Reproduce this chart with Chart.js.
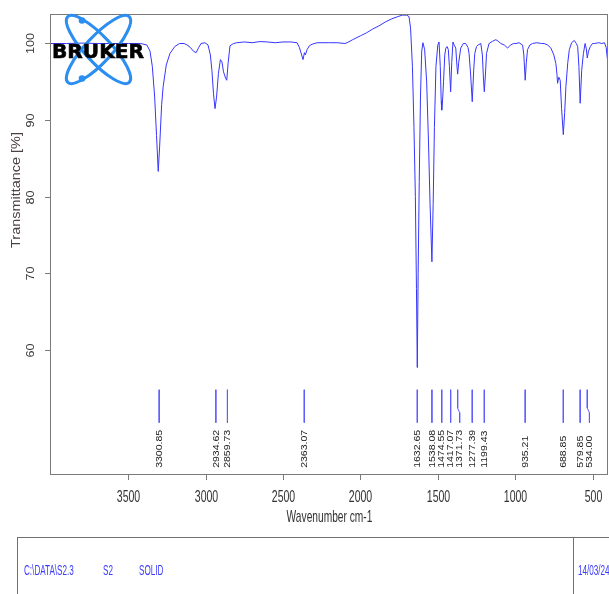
<!DOCTYPE html>
<html>
<head>
<meta charset="utf-8">
<script src="https://cdn.jsdelivr.net/npm/chart.js@4.4.1/dist/chart.umd.min.js"></script>
<style>
  html, body { margin: 0; padding: 0; background: #fff; overflow: hidden; }
  #wrap { position: relative; width: 609px; height: 594px; }
  #logo { position: absolute; left: 0; top: 0; }
  #footBox { position: absolute; left: 17px; top: 537px; width: 620px; height: 80px;
             border-top: 1px solid #707070; border-left: 1px solid #707070; }
  #footDiv { position: absolute; left: 573px; top: 537px; height: 70px; border-left: 1px solid #707070; }
  .foot { position: absolute; top: 562px; font-family: "Liberation Sans", Arial, sans-serif;
          font-size: 14px; line-height: 16px; color: #3a3aff; white-space: pre;
          transform-origin: 0 50%; transform: scale(0.58, 1); }
</style>
</head>
<body>
<div id="wrap">
  <canvas id="irChart" width="609" height="594"></canvas>
  <svg id="logo" width="160" height="90">
    <g fill="none" stroke="#2b8ef0" stroke-width="3">
      <ellipse cx="98.5" cy="49.5" rx="45" ry="13" transform="rotate(47 98.5 49.5)"/>
      <ellipse cx="98.5" cy="49.5" rx="45" ry="13" transform="rotate(-47 98.5 49.5)"/>
    </g>
    <circle cx="82" cy="20.5" r="3.3" fill="#2b8ef0"/>
    <circle cx="82" cy="78.5" r="3.3" fill="#2b8ef0"/>
    <text x="52" y="57.5" font-family="DejaVu Sans" font-weight="bold" font-size="20"
          textLength="92" lengthAdjust="spacingAndGlyphs" fill="#000" stroke="#000" stroke-width="0.6">BRUKER</text>
  </svg>
  <div id="footBox"></div>
  <div id="footDiv"></div>
  <div class="foot" style="left:24px">C:\DATA\S2.3</div>
  <div class="foot" style="left:103px">S2</div>
  <div class="foot" style="left:139px">SOLID</div>
  <div class="foot" style="left:578px">14/03/24</div>
</div>
<script>
// spectrum (wavenumber cm-1, transmittance %)
const waveNumbers = [
  4000, 3900, 3800, 3700, 3600, 3500, 3420, 3380, 3360, 3345, 3330, 3318, 3307, 3298, 3285, 3275,
  3255, 3231, 3200, 3170, 3140, 3120, 3100, 3080, 3062, 3045, 3030, 3005, 2985, 2970, 2960, 2950,
  2940, 2930, 2918, 2905, 2895, 2885, 2872, 2864, 2855, 2843, 2820, 2799, 2750, 2700, 2650, 2600,
  2550, 2500, 2450, 2410, 2395, 2380, 2371, 2362, 2356, 2345, 2330, 2313, 2280, 2200, 2150, 2100,
  2086, 2050, 2000, 1960, 1920, 1880, 1840, 1800, 1760, 1730, 1700, 1686, 1676, 1664, 1654, 1645,
  1638, 1632.65, 1627, 1620, 1612, 1604, 1596, 1585, 1572, 1560, 1550, 1538.08, 1530, 1522, 1512, 1500,
  1492, 1484, 1478, 1474.55, 1468, 1463, 1455, 1448, 1440, 1432, 1425, 1417.07, 1410, 1402, 1392, 1384,
  1376, 1371.73, 1365, 1352, 1335, 1320, 1305, 1298, 1288, 1277.39, 1268, 1261, 1250, 1240, 1222, 1212,
  1205, 1199.43, 1192, 1185, 1169, 1145, 1125, 1110, 1093, 1070, 1049, 1030, 1010, 995, 975, 952,
  944, 935.21, 928, 920, 905, 888, 860, 830, 813, 790, 769, 750, 737, 730, 726, 718,
  709, 700, 688.85, 680, 672, 660, 650, 635, 618, 605, 596, 588, 579.85, 570, 559, 548,
  540, 534, 526, 514, 500, 488, 460, 440, 423, 412, 404, 400
];
const transmittance = [
  100.0, 100.0, 100.05, 100.0, 100.0, 100.0, 100.0, 99.8, 99.0, 97.0, 93.0, 88.0, 83.3, 86.5, 92.0, 94.4,
  97.2, 98.7, 99.6, 100.0, 100.0, 99.8, 99.5, 99.0, 98.8, 99.5, 100.0, 100.1, 99.8, 98.5, 96.5, 93.5,
  91.5, 93.0, 96.1, 97.9, 97.6, 96.3, 95.5, 95.2, 97.5, 99.7, 100.0, 100.1, 100.2, 100.1, 100.25, 100.2,
  100.1, 100.2, 100.2, 100.1, 99.5, 98.5, 97.9, 98.8, 98.5, 99.2, 99.7, 99.9, 100.1, 100.1, 100.1, 100.0,
  100.1, 100.5, 101.0, 101.4, 101.9, 102.3, 102.8, 103.2, 103.5, 103.7, 103.7, 103.5, 102.0, 97.0, 89.0, 80.0,
  68.0, 57.7, 70.0, 82.0, 93.0, 99.0, 100.1, 99.2, 95.0, 87.0, 79.0, 71.5, 79.0, 89.0, 97.0, 99.8,
  100.2, 97.0, 92.5, 91.3, 93.0, 95.0, 98.5, 99.4, 99.6, 99.2, 97.0, 93.7, 97.5, 100.2, 99.7, 99.4,
  97.0, 96.0, 97.5, 99.4, 100.0, 100.0, 99.5, 98.7, 96.0, 92.4, 96.5, 98.7, 99.6, 99.8, 100.0, 98.5,
  95.5, 93.7, 96.0, 98.7, 100.0, 100.3, 100.5, 100.3, 100.0, 99.8, 99.4, 99.8, 100.0, 100.0, 100.1, 99.8,
  98.5, 95.2, 97.5, 99.2, 99.8, 100.0, 100.1, 100.0, 100.0, 99.8, 99.4, 98.5, 97.4, 96.0, 94.8, 95.6,
  95.2, 91.5, 88.1, 91.0, 94.4, 97.5, 99.2, 100.1, 100.4, 100.0, 99.6, 97.0, 92.2, 96.5, 98.7, 100.0,
  99.3, 98.1, 99.0, 99.6, 100.0, 100.0, 100.1, 100.0, 100.1, 99.5, 98.0, 97.8
];
const peakWaves = [3300.85, 2934.62, 2859.73, 2363.07, 1632.65, 1538.08, 1474.55, 1417.07,
                   1371.73, 1277.39, 1199.43, 935.21, 688.85, 579.85, 534.00];
const xTickValues = [3500, 3000, 2500, 2000, 1500, 1000, 500];
const yTickValues = [60, 70, 80, 90, 100];

// peak marker geometry (in transmittance units) and label nudges for crowded peaks
const markTop = 54.8, markKnee = 52.4, markFoot = 51.8, markBottom = 50.5, labelBase = 44.6;
const labelShift = { '1371.73': -13, '534.00': -14 };

const lineColor = '#3535ff';
const markColor = '#5d5dff';
const fontName = '"Liberation Sans", Arial, sans-serif';

function markerPoints(w) {
    const s = labelShift[w.toFixed(2)] || 0;
    if (!s) return [{ x: w, y: markTop }, { x: w, y: markBottom }];
    return [{ x: w, y: markTop }, { x: w, y: markKnee }, { x: w + s, y: markFoot }, { x: w + s, y: markBottom }];
}

function putText(ctx, txt, x, y, size, sx, sy, rotate, align, color) {
    ctx.save();
    ctx.translate(x, y);
    ctx.scale(sx, sy);
    if (rotate) ctx.rotate(-Math.PI / 2);
    ctx.font = size + 'px ' + fontName;
    ctx.fillStyle = color;
    ctx.textAlign = align;
    ctx.textBaseline = 'middle';
    ctx.fillText(txt, 0, 0);
    ctx.restore();
}

const frameParts = {
    id: 'frameParts',
    afterDraw(chart) {
        const ctx = chart.ctx;
        const a = chart.chartArea;
        const xs = chart.scales.x, ys = chart.scales.y;
        ctx.save();
        // box
        ctx.strokeStyle = '#7a7a7a';
        ctx.lineWidth = 1;
        ctx.strokeRect(Math.round(a.left) - 0.5, Math.round(a.top) + 0.5,
                       Math.round(a.right - a.left), Math.round(a.bottom - a.top));
        // x ticks
        xTickValues.forEach(v => {
            const px = Math.round(xs.getPixelForValue(v)) + 0.5;
            ctx.beginPath();
            ctx.moveTo(px, a.bottom);
            ctx.lineTo(px, a.bottom + 6);
            ctx.stroke();
            putText(ctx, String(v), px, a.bottom + 23, 17, 0.62, 1.0, false, 'center', '#333');
        });
        // y ticks
        yTickValues.forEach(v => {
            const py = Math.round(ys.getPixelForValue(v)) + 0.5;
            ctx.beginPath();
            ctx.moveTo(a.left - 6, py);
            ctx.lineTo(a.left, py);
            ctx.stroke();
            putText(ctx, String(v), 31, py, 17, 0.68, 0.74, true, 'center', '#333');
        });
        // axis titles
        putText(ctx, 'Transmittance [%]', 17, 190, 17, 0.7, 0.85, true, 'center', '#4d4040');
        putText(ctx, 'Wavenumber cm-1', (a.left + a.right) / 2, 517, 17, 0.6, 1.0, false, 'center', '#333');
        // peak labels
        peakWaves.forEach(w => {
            const s = labelShift[w.toFixed(2)] || 0;
            const px = xs.getPixelForValue(w + s);
            putText(ctx, w.toFixed(2), px, ys.getPixelForValue(labelBase), 13, 0.75, 0.81, true, 'left', '#222');
        });
        ctx.restore();
    }
};

const datasets = [{
    data: waveNumbers.map((w, i) => ({ x: w, y: transmittance[i] })),
    borderColor: lineColor,
    borderWidth: 1,
    pointRadius: 0,
    tension: 0
}];
peakWaves.forEach(w => {
    datasets.push({
        data: markerPoints(w),
        borderColor: markColor,
        borderWidth: 1,
        pointRadius: 0,
        tension: 0
    });
});

const irChart = new Chart(document.getElementById('irChart'), {
    type: 'line',
    data: { datasets: datasets },
    options: {
        responsive: false,
        animation: false,
        devicePixelRatio: 1,
        layout: { padding: { left: 51, top: 14, right: 1, bottom: 120 } },
        plugins: { legend: { display: false }, tooltip: { enabled: false } },
        scales: {
            x: { type: 'linear', min: 400, max: 4000, reverse: true, display: false },
            y: { type: 'linear', min: 43.8, max: 103.85, display: false }
        }
    },
    plugins: [frameParts]
});
</script>
</body>
</html>
